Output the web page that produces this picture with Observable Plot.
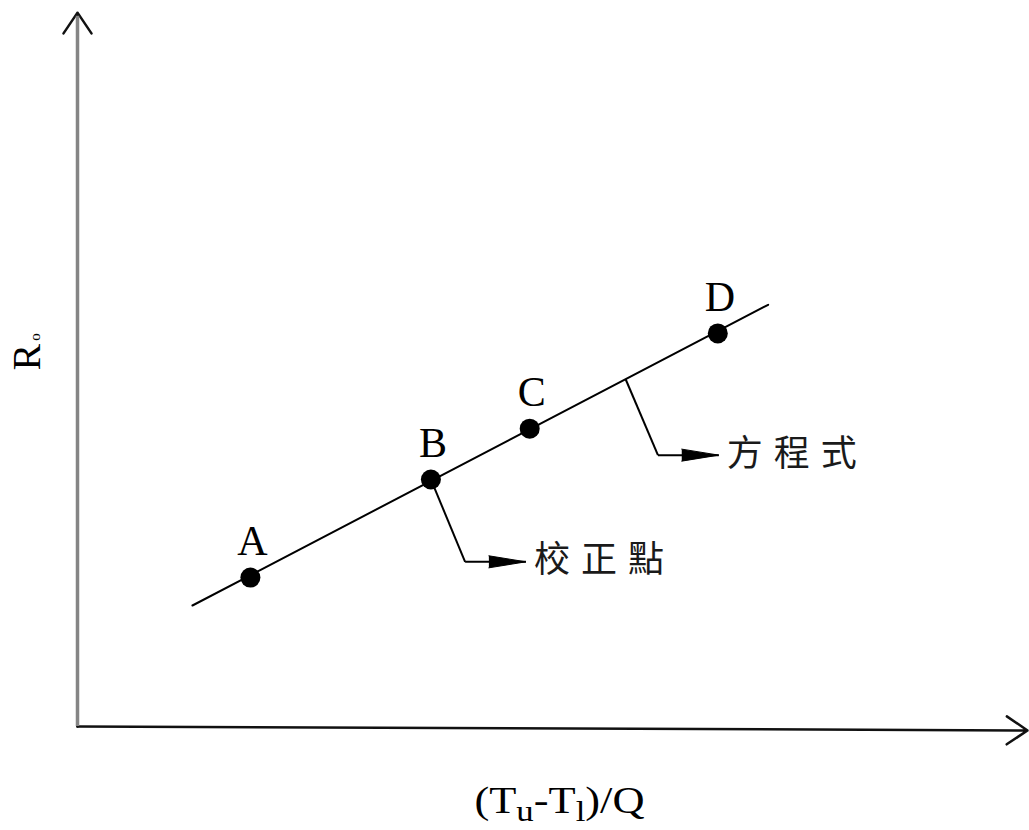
<!DOCTYPE html>
<html>
<head>
<meta charset="utf-8">
<script src="https://cdn.jsdelivr.net/npm/d3@7"></script>
<script src="https://cdn.jsdelivr.net/npm/@observablehq/plot@0.6"></script>
<style>
  html, body { margin: 0; padding: 0; background: #fff; }
  #chart { width: 1029px; height: 830px; }
</style>
</head>
<body>
<div id="chart"></div>
<script>
// Calibration points
const pointLabels = ["A", "B", "C", "D"];
const pointX = [18.2, 37.2, 47.6, 67.4];
const pointY = [20.8, 34.5, 41.6, 54.9];

// Fitted equation line (endpoints)
const fitX = [12.1, 72.7];
const fitY = [16.9, 58.9];

// Callouts
const calloutText = ["校正點", "方程式"];
const calloutStartX = [37.2, 57.7];
const calloutStartY = [34.5, 48.5];
const calloutElbowX = [40.8, 61.1];
const calloutElbowY = [23.0, 37.9];
const calloutTipX = [47.2, 67.5];

// Axis labels
const xLabelParts = ["(T", "u", "-T", "l", ")/Q"];
const xLabelSub = [false, true, false, true, false];
const xLabel = xLabelParts.join("");
const yLabelParts = ["R", "o"];
const yLabelSmall = [false, true];
const yLabel = yLabelParts.join("");

// Axis extents
const xAxisEnd = [100, -0.55];
const yAxisEnd = [0, 99.7];

const points = pointLabels.map((l, i) => ({label: l, x: pointX[i], y: pointY[i]}));
const fit = fitX.map((x, i) => ({x, y: fitY[i]}));
const callouts = calloutText.map((t, i) => ({
  text: t,
  x0: calloutStartX[i], y0: calloutStartY[i],
  x1: calloutElbowX[i], y1: calloutElbowY[i],
  x2: calloutTipX[i], y2: calloutElbowY[i]
}));

const font = "'Liberation Serif', 'Noto Sans CJK TC', serif";

const chart = Plot.plot({
  width: 1029,
  height: 830,
  marginLeft: 77,
  marginRight: 2,
  marginTop: 10,
  marginBottom: 104,
  x: {domain: [0, 100], axis: null},
  y: {domain: [0, 100], axis: null},
  style: {fontFamily: font, background: "#fff", color: "#000"},
  marks: [
    // x axis with arrowhead
    Plot.arrow([{}], {x1: 0, y1: 0, x2: xAxisEnd[0], y2: xAxisEnd[1], stroke: "#111", strokeWidth: 2.5, headAngle: 68, headLength: 15}),
    // y axis with arrowhead (black head, grey shaft)
    Plot.arrow([{}], {x1: 0, y1: 0, x2: yAxisEnd[0], y2: yAxisEnd[1], stroke: "#111", strokeWidth: 2.5, headAngle: 68, headLength: 15}),
    Plot.ruleX([0], {y1: 0, y2: yAxisEnd[1] - 0.5, stroke: "#858585", strokeWidth: 3.5}),
    // fitted line
    Plot.line(fit, {x: "x", y: "y", stroke: "#000", strokeWidth: 2}),
    // callout leaders
    Plot.link(callouts, {x1: "x0", y1: "y0", x2: "x1", y2: "y1", stroke: "#000", strokeWidth: 2}),
    Plot.link(callouts, {x1: "x1", y1: "y1", x2: "x2", y2: "y2", stroke: "#000", strokeWidth: 2}),
    Plot.vector(callouts, {x: "x2", y: "y2", length: 37, rotate: 90, anchor: "end", shape: "spike", r: 6, fill: "#000", stroke: "#000", strokeWidth: 1}),
    Plot.text(callouts, {x: "x2", y: "y2", text: "text", dx: 8, dy: -1, textAnchor: "start", fontSize: 36, fill: "#1a1a1a", fontFamily: "'Noto Sans CJK TC', sans-serif"}),
    // calibration points
    Plot.dot(points, {x: "x", y: "y", r: 10, fill: "#000", stroke: "none"}),
    Plot.text(points, {x: "x", y: "y", text: "label", dy: -36, dx: 2, fontSize: 42, fill: "#000"}),
    // axis labels
    Plot.text([xLabel], {frameAnchor: "bottom", dx: 7, dy: 86, fontSize: 37, fill: "#000"}),
    Plot.text([yLabel], {frameAnchor: "left", dx: -50, dy: 2, rotate: -90, textAnchor: "start", fontSize: 40, fill: "#000"})
  ]
});

document.getElementById("chart").appendChild(chart);

const svg = d3.select(chart);

// stretch a text element horizontally about its own centre
function stretchX(node, s) {
  const parent = node.parentNode;
  const g = document.createElementNS("http://www.w3.org/2000/svg", "g");
  parent.insertBefore(g, node);
  g.appendChild(node);
  const b = g.getBBox();
  const cx = b.x + b.width / 2;
  g.setAttribute("transform", `translate(${cx},0) scale(${s},1) translate(${-cx},0)`);
}

// subscripts in x label
svg.selectAll("text").filter(function () { return this.textContent === xLabel; }).each(function () {
  const t = d3.select(this);
  t.text(null);
  let shifted = false;
  xLabelParts.forEach((p, i) => {
    const ts = t.append("tspan").text(p);
    if (xLabelSub[i]) {
      ts.attr("font-size", 29).attr("dy", 8);
      shifted = true;
    } else if (shifted) {
      ts.attr("dy", -8);
      shifted = false;
    }
  });
  stretchX(this, 1.2);
});

// small "o" after R in y label
svg.selectAll("text").filter(function () { return this.textContent === yLabel; }).each(function () {
  const t = d3.select(this);
  t.text(null);
  yLabelParts.forEach((p, i) => {
    const ts = t.append("tspan").text(p);
    if (yLabelSmall[i]) ts.attr("font-size", 15).attr("dx", 3);
  });
});

// letter spacing for callout text
svg.selectAll("text").filter(function () { return calloutText.includes(this.textContent); })
  .attr("letter-spacing", 11);
</script>
</body>
</html>
